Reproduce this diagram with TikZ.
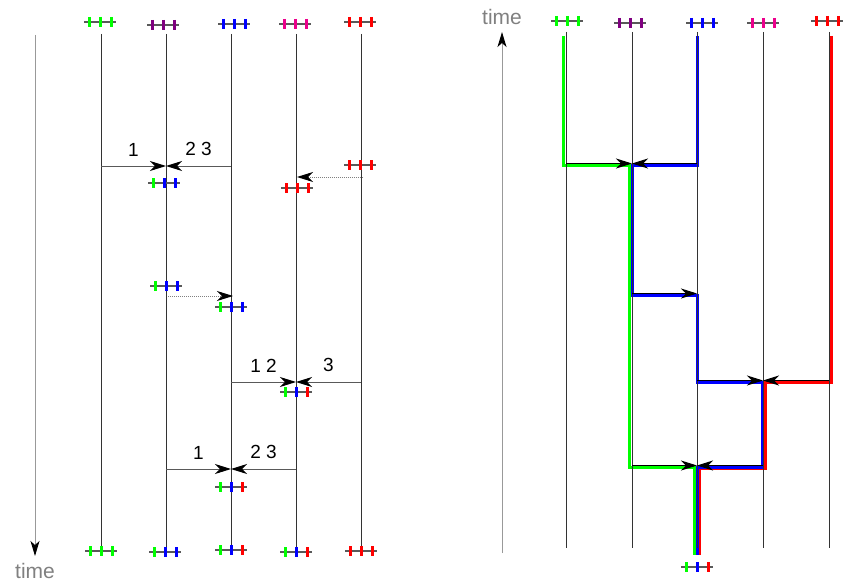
\documentclass[tikz,border=0pt]{standalone}
\usepackage{fontspec}
\setmainfont{Liberation Sans}
\usetikzlibrary{arrows.meta}
\definecolor{procpurple}{RGB}{128,0,128}

\tikzset{
  proc/.style={black!80, line width=1pt},
  arr/.style={-{Stealth[black, length=16pt, width=10pt, inset=5pt]}, black!65, line width=1pt},
  push/.style={-{Stealth[black, length=16pt, width=10pt, inset=5pt]}, gray, densely dotted, line width=1pt},
  clock/.style={-{Stealth[black, length=15pt, width=9pt, inset=4pt]}, gray!80, line width=1pt},
  flow/.style={line width=3pt},
  lab/.style={black, above=6pt},
  pics/state/.style n args={3}{code={
    \draw[black!65, line width=1.2pt] (-16,0) -- (16,0);
    \draw[#1, line width=3pt] (-11,-5) -- (-11,5);
    \draw[#2, line width=3pt] (0,-5) -- (0,5);
    \draw[#3, line width=3pt] (11,-5) -- (11,5);
  }},
}

\begin{document}
\begin{tikzpicture}[x=1pt, y=-1pt, every node/.style={font=\fontsize{19}{21}\selectfont}]
  \useasboundingbox (0,0) rectangle (845,583);

  % left: gossip rounds going down
  \foreach \i/\x in {1/101, 2/166, 3/231, 4/296, 5/361} {
    \coordinate (a\i) at (\x,34);
    \coordinate (b\i) at (\x,548);
    \draw[proc] (a\i) -- (b\i);
  }
  \coordinate (ta) at (35,35);
  \coordinate (tb) at (35,556);
  \draw[clock] (ta) -- (tb);
  \node[gray, anchor=base, font=\fontsize{21}{24}\selectfont] (tlab) at (35,578) {time};

  \pic (s1) at (100,22) {state={green}{green}{green}};
  \pic (s2) at (163,25) {state={procpurple}{procpurple}{procpurple}};
  \pic (s3) at (234,24) {state={blue}{blue}{blue}};
  \pic (s4) at (295,24) {state={magenta}{magenta}{magenta}};
  \pic (s5) at (360,22) {state={red}{red}{red}};

  % round 1
  \coordinate (m1) at (166,166);
  \draw[arr] (a1 |- m1) -- node[lab] (l11) {1} (m1);
  \draw[arr] (a3 |- m1) -- node[lab] (l12) {2 3} (m1);
  \pic (u1) at (164,183) {state={green}{blue}{blue}};
  \pic (u2) at (360,165) {state={red}{red}{red}};
  \coordinate (r0) at (363,177);
  \coordinate (r1) at (297,177);
  \draw[push] (r0) -- (r1);
  \pic (u3) at (297,188) {state={red}{red}{red}};

  % round 2
  \pic (v1) at (166,286) {state={green}{blue}{blue}};
  \coordinate (q0) at (168,296);
  \coordinate (q1) at (233,296);
  \draw[push] (q0) -- (q1);
  \pic (v2) at (231,307) {state={green}{blue}{blue}};

  % round 3
  \coordinate (m3) at (296,382);
  \draw[arr] (a3 |- m3) -- node[lab] (l31) {1 2} (m3);
  \draw[arr] (a5 |- m3) -- node[lab] (l32) {3} (m3);
  \pic (w1) at (296,392) {state={green}{blue}{red}};

  % round 4
  \coordinate (m4) at (231,469);
  \draw[arr] (a2 |- m4) -- node[lab] (l41) {1} (m4);
  \draw[arr] (a4 |- m4) -- node[lab] (l42) {2 3} (m4);
  \pic (x1) at (231,487) {state={green}{blue}{red}};

  % final states
  \pic (f1) at (101,551) {state={green}{green}{green}};
  \pic (f2) at (165,552) {state={green}{blue}{blue}};
  \pic (f3) at (231,550) {state={green}{blue}{red}};
  \pic (f4) at (296,552) {state={green}{blue}{red}};
  \pic (f5) at (361,551) {state={red}{red}{red}};

  % right: the same merges, time going up
  \draw[flow, green] (563.5,36) -- (563.5,165) -- (629.5,165) -- (629.5,467) -- (694.5,467) -- (694.5,555);
  \draw[flow, red] (831.5,36) -- (831.5,382) -- (765.5,382) -- (765.5,468) -- (699.5,468) -- (699.5,555);
  \draw[flow, blue] (697,36) -- (697,165) -- (632.5,165) -- (632.5,295) -- (697,295) -- (697,382)
    -- (762,382) -- (762,467) -- (697,467) -- (697,555);

  \foreach \i/\x in {1/566, 2/632, 3/697, 4/763, 5/829} {
    \coordinate (c\i) at (\x,32);
    \coordinate (d\i) at (\x,548);
    \draw[proc] (c\i) -- (d\i);
  }
  \coordinate (tc) at (502,553);
  \coordinate (td) at (502,32);
  \draw[clock] (tc) -- (td);
  \node[gray, anchor=base, font=\fontsize{21}{24}\selectfont] (tlab2) at (502,25) {time};

  \pic (k1) at (567,21) {state={green}{green}{green}};
  \pic (k2) at (630,23) {state={procpurple}{procpurple}{procpurple}};
  \pic (k3) at (702,23) {state={blue}{blue}{blue}};
  \pic (k4) at (763,23) {state={magenta}{magenta}{magenta}};
  \pic (k5) at (827,21) {state={red}{red}{red}};

  \coordinate (n1) at (632,163.5);
  \draw[arr, black] (c1 |- n1) -- (n1);
  \draw[arr, black] (c3 |- n1) -- (n1);
  \coordinate (n2) at (697,293.5);
  \draw[arr, black] (c2 |- n2) -- (n2);
  \coordinate (n3) at (763,380.5);
  \draw[arr, black] (c3 |- n3) -- (n3);
  \draw[arr, black] (c5 |- n3) -- (n3);
  \coordinate (n4) at (697,465.5);
  \draw[arr, black] (c2 |- n4) -- (n4);
  \draw[arr, black] (c4 |- n4) -- (n4);

  \pic (z1) at (697,567) {state={green}{blue}{red}};
\end{tikzpicture}
\end{document}
